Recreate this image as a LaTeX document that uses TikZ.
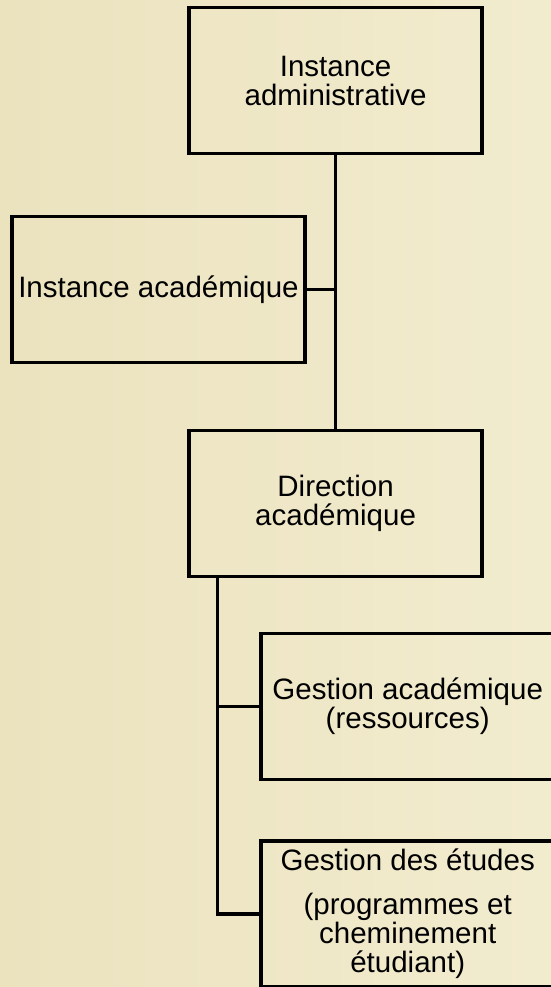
\documentclass[tikz,border=0pt]{standalone}
\usepackage{fontspec}
\setmainfont{Liberation Sans}
\definecolor{parchL}{RGB}{235,226,190}
\definecolor{parchR}{RGB}{242,236,207}
\tikzset{
  orgbox/.style={draw=black, line width=3.5pt, minimum width=293pt, minimum height=146pt,
    inner sep=0pt, align=center, text=black, font=\fontsize{29.5pt}{29pt}\selectfont},
  link/.style={draw=black, line width=3.5pt}
}
\begin{document}
\begin{tikzpicture}[x=1pt,y=-1pt]
\clip (0,0) rectangle (551,987);
\shade[left color=parchL, right color=parchR] (0,0) rectangle (551,987);
\node[orgbox] (b1) at (335.6,80.7) {Instance\\administrative};
\node[orgbox] (b2) at (158.5,289.3) {Instance académique};
\node[orgbox] (b3) at (335.6,503.3) {Direction\\académique};
\node[orgbox] (b4) at (407.7,706.3) {Gestion académique\\(ressources)};
\node[orgbox] (b5) at (407.7,913.8) {Gestion des études\\[15pt](programmes et\\cheminement\\étudiant)};
\coordinate (d) at (217.5,575.8);
\draw[link] (b1.south) -- (b3.north);
\draw[link] (b2.east) -- (b2.east -| b1.south);
\draw[link] (d) |- (b5.west);
\draw[link] (b4.west) -- (b4.west -| d);
\end{tikzpicture}
\end{document}
